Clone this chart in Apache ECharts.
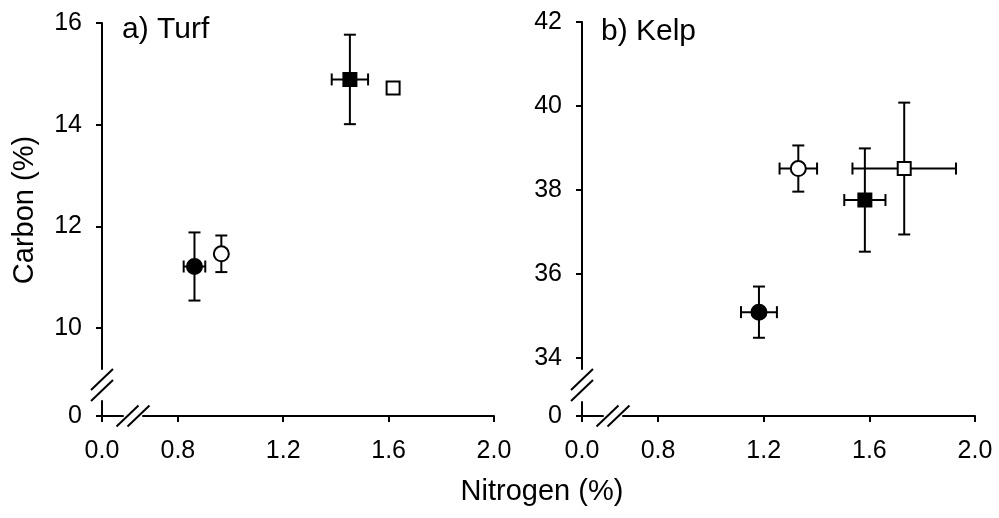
<!DOCTYPE html>
<html>
<head>
<meta charset="utf-8">
<script src="https://cdn.jsdelivr.net/npm/echarts@6.0.0/dist/echarts.min.js"></script>
<style>
  html, body { margin: 0; padding: 0; background: #fff; }
  #chart { width: 999px; height: 518px; }
</style>
</head>
<body>
<div id="chart"></div>
<script>
// four groups, same marker in both panels
const symbols = ["circle", "circle", "rect", "rect"];
const filled = [true, false, true, false];

// a) Turf
const turfN = [0.863, 0.965, 1.453, 1.617];
const turfNErr = [0.041, 0.01, 0.069, 0.015];
const turfC = [11.21, 11.46, 14.89, 14.72];
const turfCErr = [0.67, 0.36, 0.88, 0.05];

// b) Kelp
const kelpN = [1.182, 1.331, 1.583, 1.732];
const kelpNErr = [0.068, 0.071, 0.078, 0.196];
const kelpC = [35.09, 38.51, 37.76, 38.51];
const kelpCErr = [0.61, 0.55, 1.23, 1.57];

// tick labels
const xTicks = [0, 0.8, 1.2, 1.6, 2.0];
const turfTicks = [0, 10, 12, 14, 16];
const kelpTicks = [0, 34, 36, 38, 40, 42];

const FONT = "'Liberation Sans', Arial, sans-serif";
const chart = echarts.init(document.getElementById("chart"));

const grids = [
  { left: 102, top: 23, width: 392, height: 393 },
  { left: 582, top: 22, width: 393, height: 394 }
];

function xAxis(gridIndex) {
  return {
    type: "value",
    gridIndex,
    min: 0,
    max: 2.0,
    breaks: [{ start: 0.08, end: 0.667, gap: 0.075 }],
    breakArea: { show: false },
    axisLine: { lineStyle: { color: "#000", width: 2 } },
    axisTick: { customValues: xTicks, inside: false, length: 6, lineStyle: { color: "#000", width: 2 } },
    axisLabel: {
      customValues: xTicks,
      margin: 23,
      color: "#000",
      fontSize: 25,
      fontFamily: FONT,
      formatter: v => v.toFixed(1)
    },
    splitLine: { show: false }
  };
}

function yAxis(gridIndex, ticks, max, brk) {
  return {
    type: "value",
    gridIndex,
    min: 0,
    max,
    breaks: [brk],
    breakArea: { show: false },
    axisLine: { lineStyle: { color: "#000", width: 2 } },
    axisTick: { customValues: ticks, inside: false, length: 6, lineStyle: { color: "#000", width: 2 } },
    axisLabel: {
      customValues: ticks,
      margin: 20,
      color: "#000",
      fontSize: 25,
      fontFamily: FONT
    },
    splitLine: { show: false }
  };
}

function errorBars(params, api) {
  const x = api.value(0), y = api.value(1), ex = api.value(2), ey = api.value(3);
  const l = api.coord([x - ex, y]), r = api.coord([x + ex, y]);
  const t = api.coord([x, y + ey]), b = api.coord([x, y - ey]);
  const cap = 6;
  const style = { stroke: "#000", lineWidth: 2 };
  const seg = (x1, y1, x2, y2) => ({ type: "line", shape: { x1, y1, x2, y2 }, style });
  return {
    type: "group",
    children: [
      seg(l[0], l[1], r[0], r[1]),
      seg(l[0], l[1] - cap, l[0], l[1] + cap),
      seg(r[0], r[1] - cap, r[0], r[1] + cap),
      seg(t[0], t[1], b[0], b[1]),
      seg(t[0] - cap, t[1], t[0] + cap, t[1]),
      seg(b[0] - cap, b[1], b[0] + cap, b[1])
    ]
  };
}

function panelSeries(idx, n, nErr, c, cErr) {
  const out = [{
    type: "custom",
    xAxisIndex: idx,
    yAxisIndex: idx,
    renderItem: errorBars,
    data: n.map((v, i) => [v, c[i], nErr[i], cErr[i]]),
    z: 2,
    silent: true
  }];
  n.forEach((v, i) => {
    out.push({
      type: "scatter",
      xAxisIndex: idx,
      yAxisIndex: idx,
      symbol: symbols[i],
      symbolSize: symbols[i] === "circle" ? 15 : 13,
      itemStyle: {
        color: filled[i] ? "#000" : "#fff",
        borderColor: "#000",
        borderWidth: 2,
        opacity: 1
      },
      data: [[v, c[i]]],
      z: 5,
      silent: true
    });
  });
  return out;
}

// "//" break marks drawn over the axis lines
function xBreak(cx, cy) {
  const d = 5.5, w = 11, h = 10.5;
  return [
    { type: "polygon", shape: { points: [[cx - d - w, cy + h], [cx - d + w, cy - h], [cx + d + w, cy - h], [cx + d - w, cy + h]] }, style: { fill: "#fff" }, z: 10 },
    { type: "line", shape: { x1: cx - d - w, y1: cy + h, x2: cx - d + w, y2: cy - h }, style: { stroke: "#000", lineWidth: 2 }, z: 11 },
    { type: "line", shape: { x1: cx + d - w, y1: cy + h, x2: cx + d + w, y2: cy - h }, style: { stroke: "#000", lineWidth: 2 }, z: 11 }
  ];
}
function yBreak(cx, cy) {
  const d = 5.5, w = 11, h = 10.5;
  return [
    { type: "polygon", shape: { points: [[cx - w, cy - d + h], [cx + w, cy - d - h], [cx + w, cy + d - h], [cx - w, cy + d + h]] }, style: { fill: "#fff" }, z: 10 },
    { type: "line", shape: { x1: cx - w, y1: cy - d + h, x2: cx + w, y2: cy - d - h }, style: { stroke: "#000", lineWidth: 2 }, z: 11 },
    { type: "line", shape: { x1: cx - w, y1: cy + d + h, x2: cx + w, y2: cy + d - h }, style: { stroke: "#000", lineWidth: 2 }, z: 11 }
  ];
}

const graphics = [];
grids.forEach(g => {
  const bottom = g.top + g.height;
  graphics.push(...xBreak(g.left + 31, bottom));
  graphics.push(...yBreak(g.left, bottom - 31));
});

graphics.push(
  { type: "text", left: 122, top: 15, style: { text: "a) Turf", fontSize: 30, fontFamily: FONT, fill: "#000" }, z: 20 },
  { type: "text", left: 601, top: 17, style: { text: "b) Kelp", fontSize: 30, fontFamily: FONT, fill: "#000" }, z: 20 },
  { type: "text", x: 542, y: 492, style: { text: "Nitrogen (%)", fontSize: 29, fontFamily: FONT, fill: "#000", align: "center", verticalAlign: "middle" }, z: 20 },
  { type: "text", x: 25, y: 210, rotation: Math.PI / 2, style: { text: "Carbon (%)", fontSize: 29, fontFamily: FONT, fill: "#000", align: "center", verticalAlign: "middle" }, z: 20 }
);

chart.setOption({
  animation: false,
  backgroundColor: "#fff",
  grid: grids,
  xAxis: [xAxis(0), xAxis(1)],
  yAxis: [
    yAxis(0, turfTicks, 16, { start: 0.3, end: 9.189, gap: 0.62 }),
    yAxis(1, kelpTicks, 42, { start: 0.35, end: 33.747, gap: 0.78 })
  ],
  series: [
    ...panelSeries(0, turfN, turfNErr, turfC, turfCErr),
    ...panelSeries(1, kelpN, kelpNErr, kelpC, kelpCErr)
  ],
  graphic: graphics
});
</script>
</body>
</html>
